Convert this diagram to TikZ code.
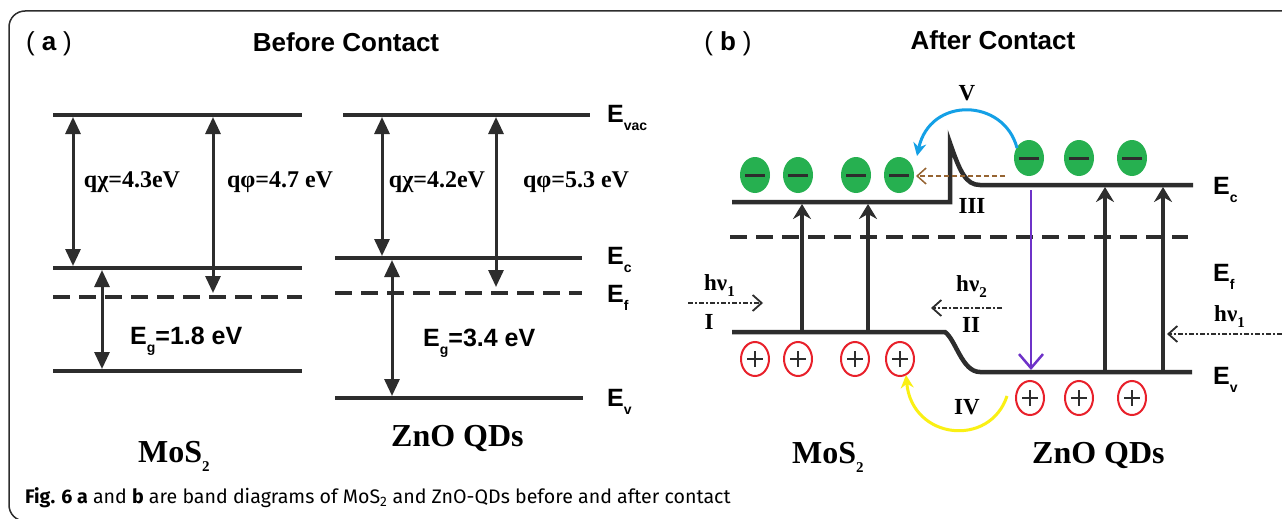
\documentclass[tikz,border=0pt]{standalone}
\usepackage{fontspec}
\setmainfont{Liberation Serif}
\setsansfont{Liberation Sans}
\newfontfamily\capfont{Fira Sans}
\usetikzlibrary{arrows.meta}
\definecolor{bandc}{RGB}{45,45,45}
\definecolor{egreen}{RGB}{38,176,80}
\definecolor{hred}{RGB}{232,32,42}
\definecolor{arcblue}{RGB}{20,160,230}
\definecolor{arcyellow}{RGB}{250,240,20}
\definecolor{vpurple}{RGB}{110,50,200}
\definecolor{tipbrown}{RGB}{150,100,50}
\newcommand\lowsub[1]{\raisebox{-0.32em}{\fontsize{14}{14}\selectfont #1}}
\newcommand\serlow[1]{\raisebox{-0.3em}{\fontsize{15}{15}\selectfont #1}}
\newcommand\panellabel[1]{{\fontseries{m}\selectfont(}\hspace{7pt}#1\hspace{7pt}{\fontseries{m}\selectfont)}}
\tikzset{
  bandline/.style={line width=4.5pt,draw=bandc},
  fermiline/.style={line width=4.5pt,draw=bandc,dash pattern=on 17pt off 9pt},
  dblarrow/.style={line width=3pt,draw=bandc,{Triangle[width=15pt,length=17pt]}-{Triangle[width=15pt,length=17pt]}},
  uparrow/.style={line width=3.5pt,draw=bandc,-{Stealth[width=18pt,length=15pt,inset=5pt]}},
  lightarrow/.style={line width=1.8pt,draw=bandc,dash pattern=on 5pt off 2pt on 2pt off 2pt,-{Straight Barb[length=9pt,width=16pt,line width=1.8pt]}},
  title/.style={font=\sffamily\bfseries\fontsize{26}{30}\selectfont,inner sep=0pt},
  val/.style={font=\rmfamily\bfseries\fontsize{24}{28}\selectfont,inner sep=0pt},
  gap/.style={font=\sffamily\bfseries\fontsize{25}{30}\selectfont,inner sep=0pt},
  elab/.style={font=\sffamily\bfseries\fontsize{25}{30}\selectfont,inner sep=0pt,anchor=base west},
  mat/.style={font=\rmfamily\bfseries\fontsize{32}{36}\selectfont,inner sep=0pt,anchor=base west},
  roman/.style={font=\rmfamily\bfseries\fontsize{23}{26}\selectfont,inner sep=0pt},
  electron/.pic={\fill[egreen] (0,0) ellipse [x radius=15pt,y radius=18pt];
                 \draw[line width=3pt,bandc] (-10,0)--(10,0);},
  hole/.pic={\draw[hred,line width=2pt,fill=white] (0,0) ellipse [x radius=14pt,y radius=17pt];
             \draw[line width=1.3pt,bandc] (-8,0)--(8,0) (0,-8)--(0,8);}
}
\begin{document}
\begin{tikzpicture}[x=1pt,y=-1pt]
\useasboundingbox (0,0) rectangle (1282,519);
\fill[white] (0,0) rectangle (1282,519);
% frame
\draw[line width=1.5pt,bandc,rounded corners=16pt] (9,11) rectangle (1310,521);

% ---------------- panel (a) ----------------
\node[title] (la) at (49,44) {\panellabel{a}};
\node[title] (ta) at (346,42) {Before Contact};

% MoS2 levels
\draw[bandline] (53,115) -- (302,115);
\draw[bandline] (53,268) -- (302,268);
\draw[fermiline] (53,297) -- (302,297);
\draw[bandline] (53,371) -- (302,371);
% ZnO levels
\draw[bandline] (343,115) -- (590,115);
\draw[bandline] (335,258) -- (582,258);
\draw[fermiline] (335,293) -- (582,293);
\draw[bandline] (335,398) -- (583,398);

\coordinate (a1t) at (73,117);  \coordinate (a1b) at (73,266);
\coordinate (a2t) at (213,117); \coordinate (a2b) at (213,293);
\coordinate (a3t) at (102,270); \coordinate (a3b) at (102,369);
\coordinate (a4t) at (382,117); \coordinate (a4b) at (382,256);
\coordinate (a5t) at (496,117); \coordinate (a5b) at (496,287);
\coordinate (a6t) at (392,260); \coordinate (a6b) at (392,396);
\draw[dblarrow] (a1t) -- (a1b);
\draw[dblarrow] (a2t) -- (a2b);
\draw[dblarrow] (a3t) -- (a3b);
\draw[dblarrow] (a4t) -- (a4b);
\draw[dblarrow] (a5t) -- (a5b);
\draw[dblarrow] (a6t) -- (a6b);

\node[val] (v1) at (132,182) {qχ=4.3eV};
\node[val] (v2) at (280,182) {qφ=4.7 eV};
\node[val] (v3) at (437,182) {qχ=4.2eV};
\node[val] (v4) at (576,182) {qφ=5.3 eV};
\node[gap,anchor=base west] (g1) at (130,344) {E\lowsub{g}=1.8 eV};
\node[gap,anchor=base west] (g2) at (423,346) {E\lowsub{g}=3.4 eV};

\node[elab] (evac) at (607,122) {E\lowsub{vac}};
\node[elab] (eca) at (607,264) {E\lowsub{c}};
\node[elab] (efa) at (607,302) {E\lowsub{f}};
\node[elab] (eva) at (607,406) {E\lowsub{v}};

\node[mat] (ma) at (138,462) {MoS\serlow{2}};
\node[mat] (za) at (391,446) {ZnO QDs};

% ---------------- panel (b) ----------------
\node[title] (lb) at (728,44) {\panellabel{b}};
\node[title] (tb) at (993,40) {After Contact};

% conduction band with spike
\draw[bandline,line join=miter] (732,202) -- (950,202) -- (950,143)
   .. controls (960,172) and (966,185) .. (980,185) -- (1193,185);
% Fermi level
\draw[fermiline] (730,237) -- (1188,237);
% valence band with bending
\draw[bandline] (732,332) -- (945,332)
   .. controls (956,340) and (962,372) .. (980,372) -- (1192,372);

% excitation arrows
\coordinate (u1b) at (802,332);  \coordinate (u1t) at (802,204);
\coordinate (u2b) at (868,332);  \coordinate (u2t) at (868,204);
\coordinate (u3b) at (1105,372); \coordinate (u3t) at (1105,187);
\coordinate (u4b) at (1163,372); \coordinate (u4t) at (1163,187);
\draw[uparrow] (u1b) -- (u1t);
\draw[uparrow] (u2b) -- (u2t);
\draw[uparrow] (u3b) -- (u3t);
\draw[uparrow] (u4b) -- (u4t);

% purple recombination arrow
\coordinate (pt) at (1031,190); \coordinate (pb) at (1031,370);
\draw[vpurple,line width=2pt,-{Straight Barb[length=14pt,width=24pt,line width=2.5pt]}] (pt) -- (pb);

% electrons
\foreach \x in {755,798,856,899} \pic at (\x,175) {electron};
\foreach \x in {1029,1079,1132} \pic at (\x,158) {electron};
% holes
\foreach \x in {755,798,855,900} \pic at (\x,359) {hole};
\foreach \x in {1030,1079,1132} \pic at (\x,398) {hole};

% brown dashed transfer arrow
\coordinate (brs) at (1005,176); \coordinate (bre) at (916,176);
\draw[tipbrown,line width=1.3pt,dash pattern=on 5pt off 3pt,-{Straight Barb[length=9pt,width=16pt,line width=1.5pt]}] (brs) -- (bre);

% blue arc V
\coordinate (bls) at (1017,148); \coordinate (ble) at (917,156);
\draw[arcblue,line width=3pt,-{Stealth[length=13pt,width=13pt]}] (bls) .. controls (1004,98) and (930,96) .. (ble);
% yellow arc IV
\coordinate (yls) at (1007,396); \coordinate (yle) at (906,375);
\draw[arcyellow,line width=3pt,-{Stealth[length=13pt,width=13pt]}] (yls) .. controls (990,448) and (912,440) .. (yle);

% light arrows
\coordinate (h1s) at (688,303); \coordinate (h1e) at (763,303);
\coordinate (h2s) at (1002,308); \coordinate (h2e) at (931,308);
\coordinate (h3s) at (1282,334); \coordinate (h3e) at (1167,334);
\draw[lightarrow] (h1s) -- (h1e);
\draw[lightarrow] (h2s) -- (h2e);
\draw[lightarrow] (h3s) -- (h3e);

\node[roman,anchor=base west] (hv1) at (704,290) {hν\serlow{1}};
\node[roman,anchor=base west] (hv2) at (956,291) {hν\serlow{2}};
\node[roman,anchor=base west] (hv3) at (1214,321) {hν\serlow{1}};
\node[roman] (r1) at (709,322) {I};
\node[roman] (r2) at (971,325) {II};
\node[roman] (r3) at (972,206) {III};
\node[roman] (r4) at (967,407) {IV};
\node[roman] (r5) at (967,93) {V};

\node[elab] (ecb) at (1213,194) {E\lowsub{c}};
\node[elab] (efb) at (1213,281) {E\lowsub{f}};
\node[elab] (evb) at (1213,384) {E\lowsub{v}};

\node[mat] (mb) at (792,463) {MoS\serlow{2}};
\node[mat] (zb) at (1032,463) {ZnO QDs};

% caption
\node[anchor=base west,inner sep=0pt,font=\capfont\fontsize{19.6}{22}\selectfont] (cap) at (25,503)
  {\textbf{Fig. 6 a} and \textbf{b} are band diagrams of MoS\textsubscript{2} and ZnO-QDs before and after contact};
\end{tikzpicture}
\end{document}
